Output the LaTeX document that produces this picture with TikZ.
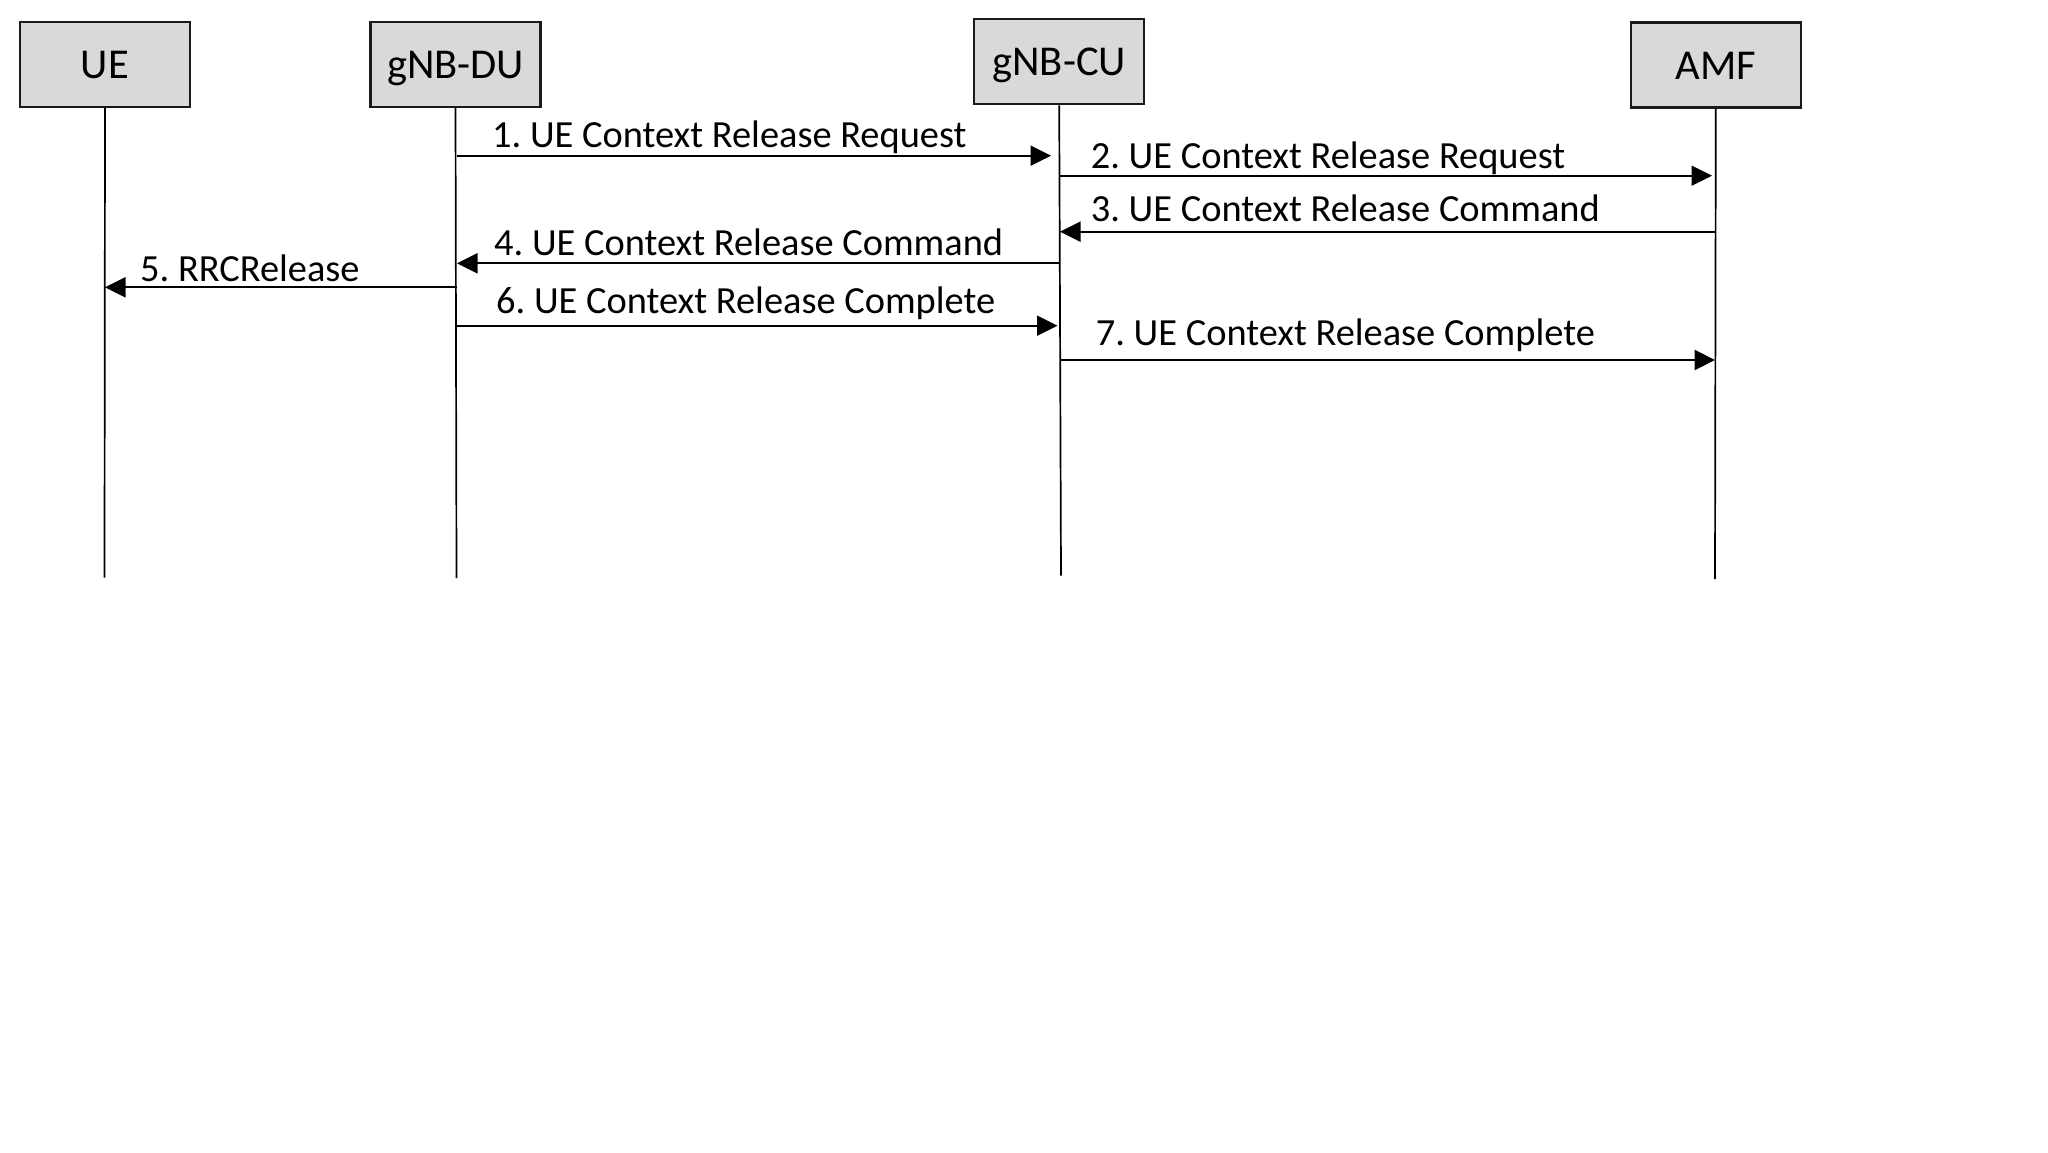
\documentclass[tikz,border=0pt]{standalone}
\usepackage{fontspec}
\setmainfont{Carlito}
\usetikzlibrary{arrows.meta}
\definecolor{boxfill}{HTML}{D9D9D9}
\definecolor{boxline}{HTML}{1A1A1A}
\frenchspacing
\begin{document}
\begin{tikzpicture}[x=1pt,y=1pt,
  entity/.style={draw=boxline, line width=2.2pt, fill=boxfill, minimum width=170pt, minimum height=85pt, inner sep=0pt},
  boxtext/.style={anchor=base, inner sep=0pt, font=\fontsize{42.5}{50}\selectfont},
  lifeline/.style={line width=1.7pt, black},
  msg/.style={line width=2pt, black, -{Triangle[length=20.5pt,width=20pt]}},
  msglabel/.style={anchor=base west, inner sep=0pt, font=\fontsize{38.4}{46}\selectfont}]
\useasboundingbox (0,0) rectangle (2048,-1153);
\fill[white] (0,0) rectangle (2048,-1153);

% entities
\node[entity] (ue)  at (105,-64.2) {};
\node[entity] (du)  at (455.5,-64.2) {};
\node[entity] (cu)  at (1059.2,-61.7) {};
\node[entity] (amf) at (1715.8,-65) {};
\node[boxtext] (uet)  at (105,-78.3) {UE};
\node[boxtext] (dut)  at (455.5,-78.3) {gNB-DU};
\node[boxtext] (cut)  at (1059.2,-76) {gNB-CU};
\node[boxtext] (amft) at (1715.8,-80) {AMF};

% lifeline ends
\coordinate (ueEnd)  at (104.5,-577.7);
\coordinate (duEnd)  at (456.5,-578);
\coordinate (cuEnd)  at (1061,-575.7);
\coordinate (amfEnd) at (1715,-579);
\draw[lifeline] (ue.south)  -- (ueEnd);
\draw[lifeline] (du.south)  -- (duEnd);
\draw[lifeline] (cu.south)  -- (cuEnd);
\draw[lifeline] (amf.south) -- (amfEnd);

% message end points
\coordinate (m1s) at (456.5,-155.7); \coordinate (m1e) at (1051,-155.7);
\coordinate (m2s) at (1059.5,-175.7); \coordinate (m2e) at (1712,-175.7);
\coordinate (m3s) at (1715,-231.7); \coordinate (m3e) at (1060,-231.7);
\coordinate (m4s) at (1058.5,-263.3); \coordinate (m4e) at (457,-263.3);
\coordinate (m5s) at (456.5,-287.3); \coordinate (m5e) at (105,-287.3);
\coordinate (m6s) at (456.5,-325.7); \coordinate (m6e) at (1057.5,-325.7);
\coordinate (m7s) at (1060.5,-360); \coordinate (m7e) at (1715,-360);

\draw[msg] (m1s) -- (m1e);
\draw[msg] (m2s) -- (m2e);
\draw[msg] (m3s) -- (m3e);
\draw[msg] (m4s) -- (m4e);
\draw[msg] (m5s) -- (m5e);
\draw[msg] (m6s) -- (m6e);
\draw[msg] (m7s) -- (m7e);

% labels
\node[msglabel] (l1) at (492,-147.7)   {1. UE Context Release Request};
\node[msglabel] (l2) at (1090.7,-168.3) {2. UE Context Release Request};
\node[msglabel] (l3) at (1090.7,-221.7) {3. UE Context Release Command};
\node[msglabel] (l4) at (494,-255)      {4. UE Context Release Command};
\node[msglabel] (l5) at (140,-281.7)    {5. RRCRelease};
\node[msglabel] (l6) at (496,-313)      {6. UE Context Release Complete};
\node[msglabel] (l7) at (1095.7,-345.7) {7. UE Context Release Complete};
\end{tikzpicture}
\end{document}
